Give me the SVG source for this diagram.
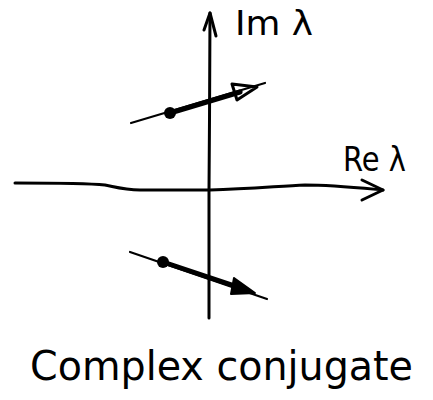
<svg xmlns="http://www.w3.org/2000/svg" width="433" height="400" viewBox="0 0 433 400">
<style>
.ax{fill:none;stroke:#000;stroke-width:3;stroke-linecap:round;stroke-linejoin:round}
.ln{fill:none;stroke:#000;stroke-width:2.2;stroke-linecap:round}
.thk{fill:none;stroke:#000;stroke-width:5;stroke-linecap:round}
.lbl{font-family:"DejaVu Sans","Liberation Sans",sans-serif;fill:#000}
</style>
<rect width="433" height="400" fill="#fff"/>
<g id="axes">
<path class="ax" d="M210,13 L209.5,120 L209,190 L209,318"/>
<path class="ax" d="M204,30 L210,13 L216,36"/>
<path class="ax" d="M15,183 C60,183 95,184 105,185 C115,187 125,190 140,190 L210,190 C250,189 280,186 305,185 C330,185 350,187 383,190"/>
<path class="ax" d="M362,180 L383,190 L362,200"/>
</g>
<g id="upper-root">
<path class="ln" d="M131,123 L265,83"/>
<path class="thk" d="M170,113 L240,92"/>
<circle cx="170" cy="113" r="6"/>
<path class="ax" d="M232,84 L257,87 L237,100 Z"/>
</g>
<g id="lower-root">
<path class="ln" d="M130,252 L267,299"/>
<path class="thk" d="M163,262 L235,286"/>
<circle cx="163" cy="262" r="6"/>
<path d="M234,278 L255,293 L231,294 Z" fill="#000" stroke="#000" stroke-width="2" stroke-linejoin="round"/>
</g>
<g id="labels">
<text class="lbl" x="235" y="35" font-size="33" textLength="78" lengthAdjust="spacingAndGlyphs">Im λ</text>
<text class="lbl" x="343" y="171" font-size="34" textLength="63" lengthAdjust="spacingAndGlyphs">Re λ</text>
<text class="lbl" x="30" y="380" font-size="40" textLength="383" lengthAdjust="spacingAndGlyphs">Complex conjugate</text>
</g>
</svg>
